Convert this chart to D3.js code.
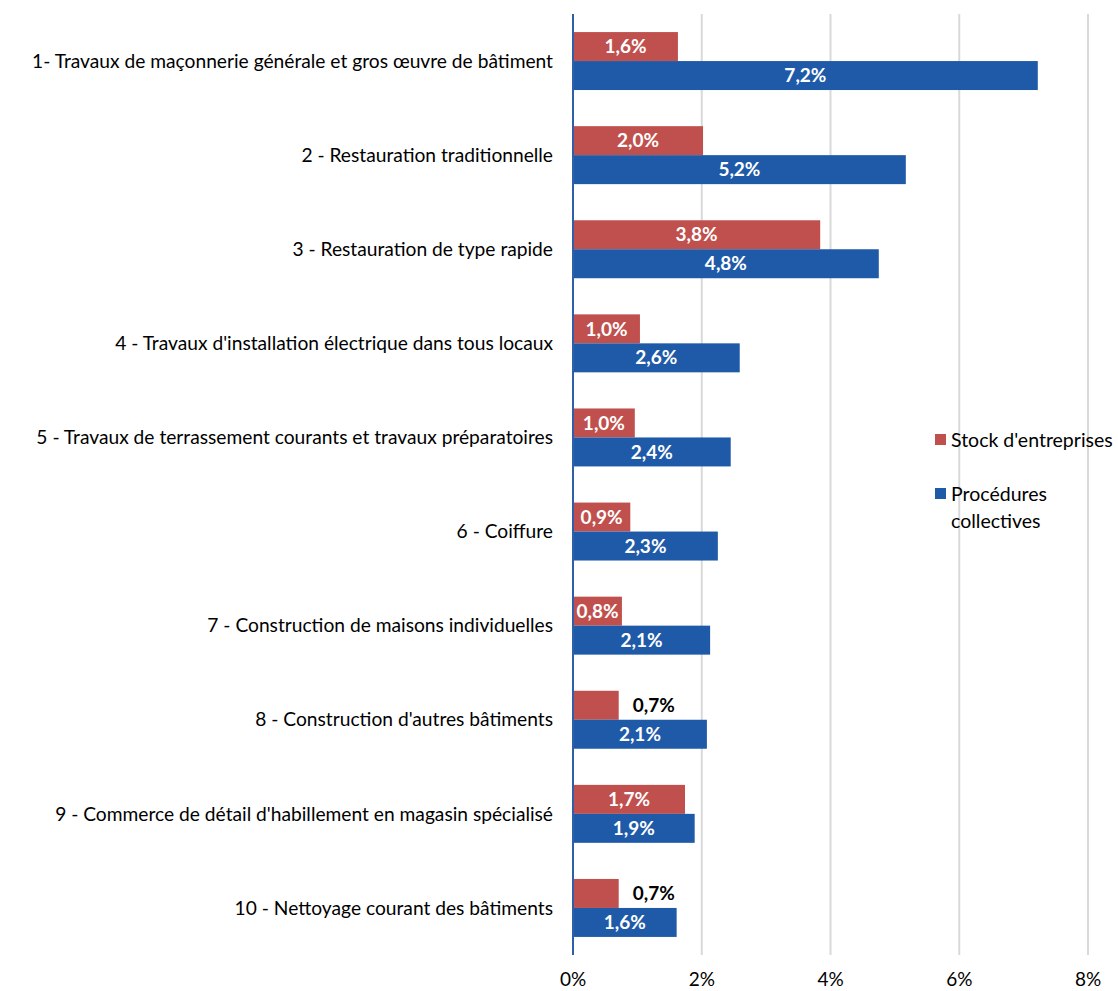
<!DOCTYPE html>
<html><head><meta charset="utf-8">
<script src="https://cdn.jsdelivr.net/npm/d3@7"></script>
<style>body{margin:0;background:#fff}svg{display:block}text{font-family:Lato,"Open Sans",sans-serif}</style>
</head><body><svg id="c" width="1118" height="991"></svg>
<script>
const categories = [
 "1- Travaux de maçonnerie générale et gros œuvre de bâtiment",
 "2 - Restauration traditionnelle",
 "3 - Restauration de type rapide",
 "4 - Travaux d'installation électrique dans tous locaux",
 "5 - Travaux de terrassement courants et travaux préparatoires",
 "6 - Coiffure",
 "7 - Construction de maisons individuelles",
 "8 - Construction d'autres bâtiments",
 "9 - Commerce de détail d'habillement en magasin spécialisé",
 "10 - Nettoyage courant des bâtiments"
];
const seriesNames = ["Stock d'entreprises", "Procédures collectives"];
const stockValues = [1.63, 2.02, 3.84, 1.04, 0.96, 0.89, 0.76, 0.71, 1.74, 0.71];
const stockLabels = ["1,6%","2,0%","3,8%","1,0%","1,0%","0,9%","0,8%","0,7%","1,7%","0,7%"];
const procValues = [7.22, 5.17, 4.75, 2.59, 2.45, 2.25, 2.13, 2.08, 1.89, 1.61];
const procLabels = ["7,2%","5,2%","4,8%","2,6%","2,4%","2,3%","2,1%","2,1%","1,9%","1,6%"];
const xTicks = [0, 2, 4, 6, 8];
const tickLabels = ["0%","2%","4%","6%","8%"];
const colors = ["#C0504D", "#1F5AA8"];

const svg = d3.select("#c");
const pLeft = 573, pRight = 1088, pTop = 14, pBottom = 955;
const x = d3.scaleLinear().domain([0, 8]).range([pLeft, pRight]);
const y = d3.scaleBand().domain(categories).range([pTop, pBottom]).paddingInner(0.384).paddingOuter(0.192);
const ys = d3.scaleBand().domain([0,1]).range([0, y.bandwidth()]);

// gridlines
svg.append("g").selectAll("line").data(xTicks.slice(1)).join("line")
  .attr("x1", d => x(d)).attr("x2", d => x(d)).attr("y1", pTop).attr("y2", pBottom)
  .attr("stroke", "#D9D9D9").attr("stroke-width", 2);

// tick labels
svg.append("g").selectAll("text").data(xTicks).join("text")
  .attr("x", d => x(d)).attr("y", 979).attr("dy", "0.35em").attr("text-anchor", "middle")
  .attr("font-size", 19).attr("fill", "#000").text((d, i) => tickLabels[i]);

const series = [
  {vals: stockValues, labs: stockLabels},
  {vals: procValues, labs: procLabels}
];
const fs = 19;
series.forEach((s, si) => {
  const g = svg.append("g");
  categories.forEach((c, i) => {
    const v = s.vals[i];
    const y0 = y(c) + ys(si);
    const h = ys.bandwidth();
    g.append("rect").attr("x", x(0)).attr("y", y0).attr("width", x(v) - x(0)).attr("height", h)
      .attr("fill", colors[si]);
    const inside = v >= 0.75;
    g.append("text")
      .attr("x", inside ? (x(0) + x(v)) / 2 : x(v) + 14)
      .attr("y", y0 + h / 2).attr("dy", "0.35em")
      .attr("text-anchor", inside ? "middle" : "start")
      .attr("font-size", fs).attr("font-weight", "bold")
      .attr("fill", inside ? "#fff" : "#000").text(s.labs[i]);
  });
});

// axis line
svg.append("line").attr("x1", x(0)).attr("x2", x(0)).attr("y1", pTop).attr("y2", pBottom)
  .attr("stroke", "#2F5FA8").attr("stroke-width", 2);

// category labels
svg.append("g").selectAll("text").data(categories).join("text")
  .attr("x", 553).attr("y", d => y(d) + y.bandwidth() / 2).attr("dy", "0.35em")
  .attr("text-anchor", "end").attr("font-size", 19.2).attr("fill", "#000").text(d => d);

// legend
const leg = svg.append("g");
const legY = [440, 494];
const legLines = [["Stock d'entreprises"], ["Procédures", "collectives"]];
seriesNames.forEach((n, i) => {
  leg.append("rect").attr("x", 935).attr("y", legY[i] - 6).attr("width", 11).attr("height", 11).attr("fill", colors[i]);
  legLines[i].forEach((t, j) => {
    leg.append("text").attr("x", 951).attr("y", legY[i] + j * 27).attr("dy", "0.35em")
      .attr("font-size", 19.5).attr("fill", "#000").text(t);
  });
});
</script></body></html>
